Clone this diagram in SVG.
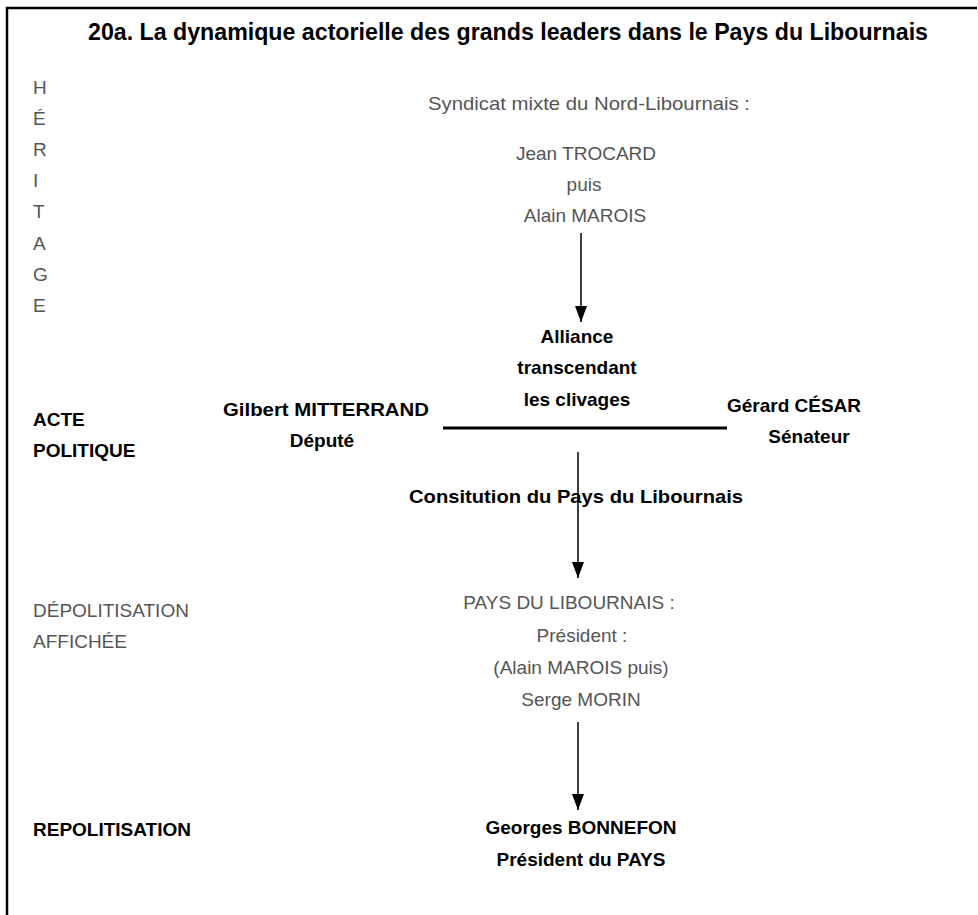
<svg xmlns="http://www.w3.org/2000/svg" width="978" height="915" viewBox="0 0 978 915">
<defs>
<marker id="ah" viewBox="0 0 16 12" refX="16" refY="6" markerWidth="16" markerHeight="12" markerUnits="userSpaceOnUse" orient="auto"><path d="M0,0 L16,6 L0,12 Z" fill="#000"/></marker>
<style>
.t{font-family:"Liberation Sans",Arial,sans-serif;font-size:23px;font-weight:bold;fill:#000;text-anchor:middle}
.g{font-family:"Liberation Sans",Arial,sans-serif;font-size:19px;fill:#555}
.gc{font-family:"Liberation Sans",Arial,sans-serif;font-size:19px;fill:#555;text-anchor:middle}
.b{font-family:"Liberation Sans",Arial,sans-serif;font-size:19px;font-weight:bold;fill:#000}
.bc{font-family:"Liberation Sans",Arial,sans-serif;font-size:19px;font-weight:bold;fill:#000;text-anchor:middle}
.conn{stroke:#000;stroke-width:1.5;fill:none}
</style>
</defs>
<rect width="978" height="915" fill="#fff"/>
<g id="frame"><path d="M7,915 V8 H977" stroke="#000" stroke-width="2.5" fill="none"/></g>
<g id="title"><text class="t" x="508" y="40" textLength="840" lengthAdjust="spacingAndGlyphs">20a. La dynamique actorielle des grands leaders dans le Pays du Libournais</text></g>
<g id="heritage">
<text class="g" x="33" y="94">H</text>
<text class="g" x="33" y="125">É</text>
<text class="g" x="33" y="156">R</text>
<text class="g" x="33" y="187">I</text>
<text class="g" x="33" y="218">T</text>
<text class="g" x="33" y="250">A</text>
<text class="g" x="33" y="281">G</text>
<text class="g" x="33" y="312">E</text>
</g>
<g id="acte">
<text class="b" x="33" y="426">ACTE</text>
<text class="b" x="33" y="457">POLITIQUE</text>
</g>
<g id="depolitisation">
<text class="g" x="33" y="617">DÉPOLITISATION</text>
<text class="g" x="33" y="648">AFFICHÉE</text>
</g>
<g id="repolitisation"><text class="b" x="33" y="836">REPOLITISATION</text></g>
<g id="syndicat">
<text class="gc" x="589" y="110" textLength="322" lengthAdjust="spacingAndGlyphs">Syndicat mixte du Nord-Libournais :</text>
<text class="gc" x="586" y="160">Jean TROCARD</text>
<text class="gc" x="584" y="191">puis</text>
<text class="gc" x="585" y="222">Alain MAROIS</text>
</g>
<g id="alliance">
<text class="bc" x="577" y="343">Alliance</text>
<text class="bc" x="577" y="374">transcendant</text>
<text class="bc" x="577" y="406">les clivages</text>
</g>
<g id="mitterrand">
<text class="bc" x="326" y="416" textLength="206" lengthAdjust="spacingAndGlyphs">Gilbert MITTERRAND</text>
<text class="bc" x="322" y="447">Député</text>
</g>
<g id="cesar">
<text class="bc" x="794" y="412">Gérard CÉSAR</text>
<text class="bc" x="809" y="443">Sénateur</text>
</g>
<g id="constitution"><text class="bc" x="576" y="503" textLength="334" lengthAdjust="spacingAndGlyphs">Consitution du Pays du Libournais</text></g>
<g id="pays">
<text class="gc" x="569" y="609">PAYS DU LIBOURNAIS :</text>
<text class="gc" x="582" y="642">Président :</text>
<text class="gc" x="581" y="674">(Alain MAROIS puis)</text>
<text class="gc" x="581" y="706">Serge MORIN</text>
</g>
<g id="bonnefon">
<text class="bc" x="581" y="834">Georges BONNEFON</text>
<text class="bc" x="581" y="866">Président du PAYS</text>
</g>
<g id="connectors">
<line x1="443" y1="428" x2="727" y2="428" stroke="#000" stroke-width="3"/>
<line class="conn" x1="581" y1="233" x2="581" y2="322" marker-end="url(#ah)"/>
<line class="conn" x1="578" y1="452" x2="578" y2="578" marker-end="url(#ah)"/>
<line class="conn" x1="578" y1="722" x2="578" y2="810" marker-end="url(#ah)"/>
</g>
</svg>
